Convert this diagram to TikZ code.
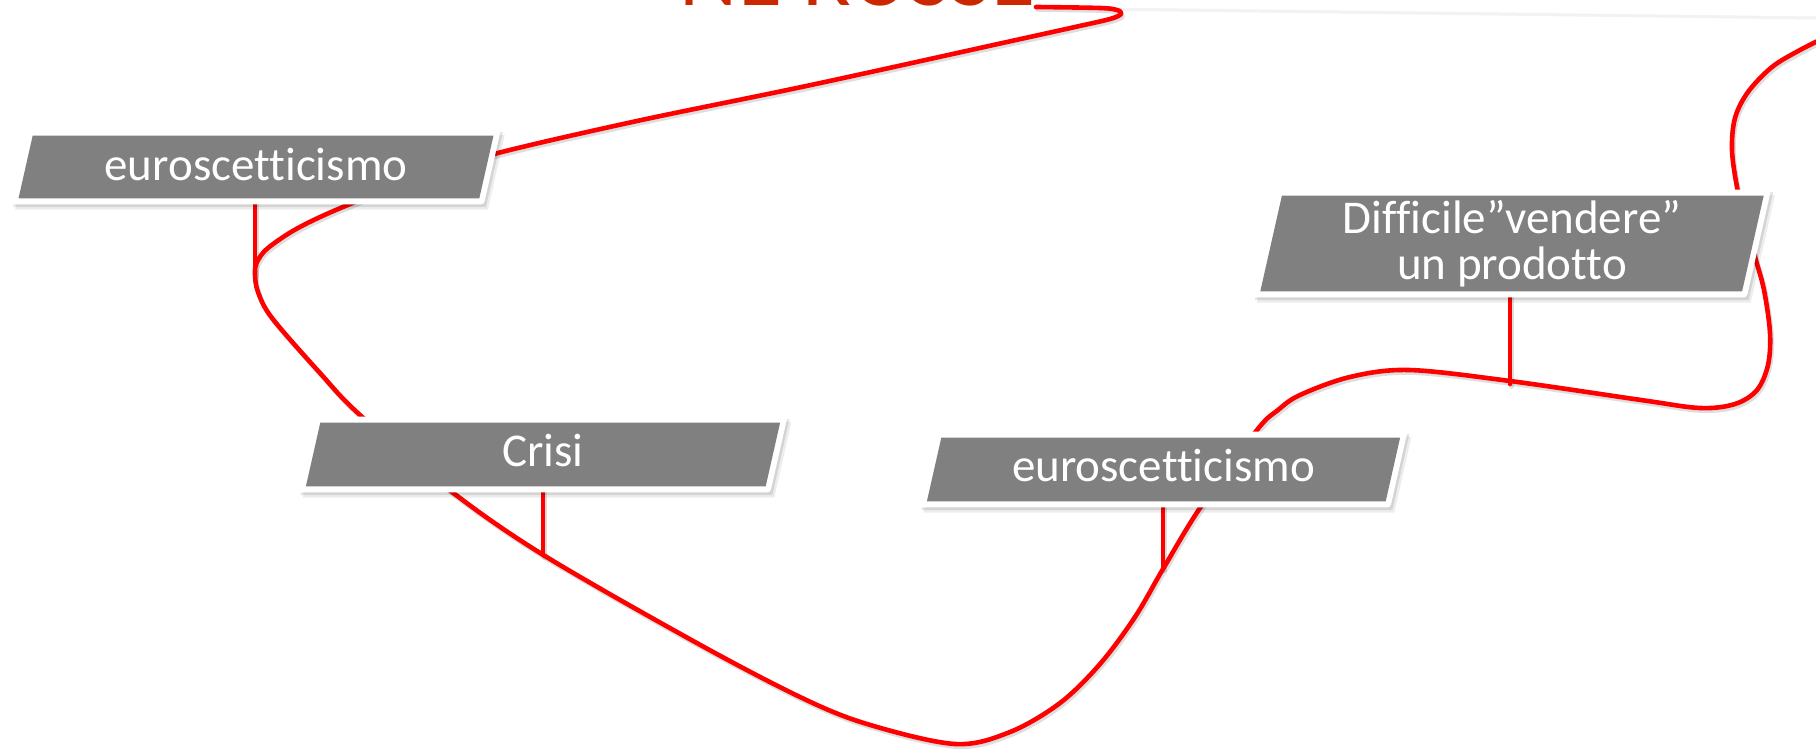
\documentclass[tikz,border=0pt]{standalone}
\usepackage{fontspec}
\newfontfamily\carl[Ligatures=NoCommon]{Carlito}
\usetikzlibrary{calc}
\pgfdeclarelayer{bg}
\pgfdeclarelayer{mid}
\pgfsetlayers{bg,mid,main}
\definecolor{track}{RGB}{255,0,0}
\definecolor{boxgrey}{RGB}{128,128,128}
\definecolor{titlered}{RGB}{204,40,0}
\tikzset{
  trackline/.style={draw=track, line width=2.3pt, line join=round, line cap=round},
  trackshadow/.style={draw=black, draw opacity=0.13, line width=2.3pt, line join=round, line cap=round},
  boxnode/.style={rectangle, inner sep=0pt, text=white, align=center,
    font=\carl\fontsize{23.5}{23}\selectfont},
  titletext/.style={inner sep=0pt, anchor=base east, text=titlered,
    font=\carl\fontsize{45}{45}\selectfont},
}
% parallelogram around node #1, expanded by #2, offset (#3,#4), style #5
\newcommand\plg[5]{%
  \path[#5] let \p1=(#1.north west), \p2=(#1.south east),
    \n1={0.113*(\y1-\y2+2*(#2))} in
    ({\x1-#2+\n1+#3},{\y1+#2+#4}) -- ({\x2+#2+\n1+#3},{\y1+#2+#4}) --
    ({\x2+#2-\n1+#3},{\y2-#2+#4}) -- ({\x1-#2-\n1+#3},{\y2-#2+#4}) -- cycle;}
\newcommand\slbox[1]{%
  \begin{pgfonlayer}{mid}
    \plg{#1}{3pt}{2pt}{(-2.6pt)}{fill=black,fill opacity=0.07}
    \plg{#1}{3pt}{1pt}{(-1.3pt)}{fill=black,fill opacity=0.10}
    \plg{#1}{3pt}{0pt}{0pt}{fill=white,rounded corners=1.5pt}
    \plg{#1}{0pt}{0pt}{0pt}{fill=boxgrey}
  \end{pgfonlayer}}
\begin{document}
\begin{tikzpicture}[x=0.5pt,y=-0.5pt]
\useasboundingbox (0,0) rectangle (1816,749);
\begin{pgfonlayer}{bg}
  \fill[white] (0,0) rectangle (1816,749);
  \draw[black!5, line width=1.5pt] (1100,9) -- (1816,18);
\end{pgfonlayer}

% title (cut off by the top edge)
\node[titletext] (title) at (1036,6) {NE RUSSE};

% boxes
\node[boxnode, minimum width=230pt, minimum height=31pt, text height=13pt, text depth=0pt]
  (b1) at (256,167) {euroscetticismo};
\node[boxnode, minimum width=229.5pt, minimum height=31.5pt, text height=11.5pt, text depth=0pt]
  (b2) at (543,454.5) {Crisi};
\node[boxnode, minimum width=229pt, minimum height=31.5pt, text height=12pt, text depth=0pt]
  (b3) at (1163.5,469.5) {euroscetticismo};
\node[boxnode, minimum width=240.5pt, minimum height=47.5pt]
  (b4) at (1512,243.5) {Difficile”vendere”\\un prodotto};
\slbox{b1}\slbox{b2}\slbox{b3}\slbox{b4}

% junctions on the track
\coordinate (j1) at (255,274);
\coordinate (j2) at (543,555);
\coordinate (j3) at (1163,568);
\coordinate (j4) at (1510,384);

\begin{pgfonlayer}{bg}
\foreach \st/\sx/\sy in {trackshadow/1.5/2.6, trackline/0/0}{
 \begin{scope}[transform canvas={shift={(\sx,\sy)}}]
  \draw[\st] plot[smooth, tension=0.55] coordinates {
    (1036,7) (1100,8) (1117,10) (1121,14) (1110,19) (1075,27) (1007,42)
    (811,85) (637,121) (498,153) (420,177) (343,207) (298,228) (268,248)
    (257,262) (255,274) (258,292) (272,318) (320,373) (360,415) (452,492)
    (545,556) (695,642) (800,697) (867,724) (955,744) (1010,732) (1060,703)
    (1100,664) (1135,617) (1163,569) (1200,508) (1257,430) (1278,410)
    (1300,395) (1350,377) (1409,370) (1510,381) (1641,400) (1700,408)
    (1735,404) (1757,390) (1768,365) (1770,333) (1764,290) (1755,257)
    (1745,220) (1737,187) (1732,150) (1735,118) (1748,92) (1772,67)
    (1800,50) (1830,35)};
  \draw[\st] (b1.south -| j1) -- (j1);
  \draw[\st] (b2.south -| j2) -- (j2);
  \draw[\st] (b3.south -| j3) -- (j3);
  \draw[\st] (b4.south -| j4) -- (j4);
 \end{scope}}
\end{pgfonlayer}
\end{tikzpicture}
\end{document}
